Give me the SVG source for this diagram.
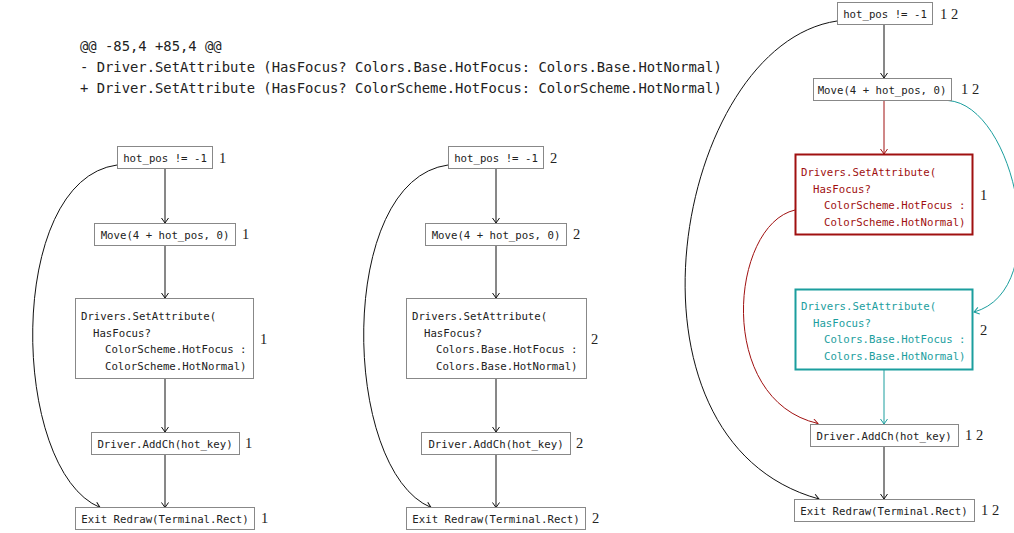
<svg xmlns="http://www.w3.org/2000/svg" width="1014" height="533" viewBox="0 0 1014 533">
<style>
.box{fill:#fff;stroke:#888;stroke-width:1}
.t{font-family:"DejaVu Sans Mono","Liberation Mono",monospace;font-size:10.7px;fill:#222}
.c{text-anchor:middle}
.n{font-family:"Liberation Serif","DejaVu Serif",serif;font-size:14.5px;fill:#222}
.hdr{font-family:"DejaVu Sans Mono","Liberation Mono",monospace;font-size:13.85px;fill:#222}
.e{fill:none;stroke:#111;stroke-width:1}
.er{fill:none;stroke:#a01010;stroke-width:1}
.et{fill:none;stroke:#1b9e9e;stroke-width:1}
.red{fill:#fff;stroke:#a01010;stroke-width:2}
.teal{fill:#fff;stroke:#1b9e9e;stroke-width:2}
.tr{fill:#a01010}
.tt{fill:#1b9e9e}
</style>
<defs>
<marker id="ak" viewBox="-6 -4 7 8" refX="0" refY="0" markerWidth="7" markerHeight="8" markerUnits="userSpaceOnUse" orient="auto"><path d="M-5,-3.5 L0,0 L-5,3.5" fill="none" stroke="#111" stroke-width="1"/></marker>
<marker id="ar" viewBox="-6 -4 7 8" refX="0" refY="0" markerWidth="7" markerHeight="8" markerUnits="userSpaceOnUse" orient="auto"><path d="M-5,-3.5 L0,0 L-5,3.5" fill="none" stroke="#a01010" stroke-width="1"/></marker>
<marker id="at" viewBox="-6 -4 7 8" refX="0" refY="0" markerWidth="7" markerHeight="8" markerUnits="userSpaceOnUse" orient="auto"><path d="M-5,-3.5 L0,0 L-5,3.5" fill="none" stroke="#1b9e9e" stroke-width="1"/></marker>
</defs>

<g id="header">
<text class="hdr" x="80" y="51">@@ -85,4 +85,4 @@</text>
<text class="hdr" x="80" y="72">- Driver.SetAttribute (HasFocus? Colors.Base.HotFocus: Colors.Base.HotNormal)</text>
<text class="hdr" x="80" y="93">+ Driver.SetAttribute (HasFocus? ColorScheme.HotFocus: ColorScheme.HotNormal)</text>
</g>

<g id="connectors">
<!-- left -->
<path class="e" d="M165,169 L165,223" marker-end="url(#ak)"/>
<path class="e" d="M165,245 L165,298" marker-end="url(#ak)"/>
<path class="e" d="M165,378 L165,432" marker-end="url(#ak)"/>
<path class="e" d="M165,454 L165,507.5" marker-end="url(#ak)"/>
<path class="e" d="M117,165 C5,180 10,470 100,507.5" marker-end="url(#ak)"/>
<!-- middle -->
<path class="e" d="M496,169 L496,223" marker-end="url(#ak)"/>
<path class="e" d="M496,245 L496,298" marker-end="url(#ak)"/>
<path class="e" d="M496,378 L496,432" marker-end="url(#ak)"/>
<path class="e" d="M496,454 L496,507.5" marker-end="url(#ak)"/>
<path class="e" d="M448,165 C336,180 341,470 431,507.5" marker-end="url(#ak)"/>
<!-- right -->
<path class="e" d="M884,24.5 L884,78" marker-end="url(#ak)"/>
<path class="er" d="M884,100 L884,154" marker-end="url(#ar)"/>
<path class="et" d="M948,100.5 C1015,105 1055,290 974,312" marker-end="url(#at)"/>
<path class="er" d="M795,210 C730,225 715,400 818,423.5" marker-end="url(#ar)"/>
<path class="et" d="M884,370 L884,424" marker-end="url(#at)"/>
<path class="e" d="M884,446 L884,499" marker-end="url(#ak)"/>
<path class="e" d="M837,21 C675,45 605,440 819,499" marker-end="url(#ak)"/>
</g>

<!-- left graph -->
<g id="L_hot">
<rect class="box" x="117.5" y="146.5" width="95" height="22"/>
<text class="t c" x="165" y="161.5">hot_pos != -1</text>
<text class="n" x="219" y="163">1</text>
</g>
<g id="L_move">
<rect class="box" x="94.5" y="223.5" width="141" height="22"/>
<text class="t c" x="165" y="238.5">Move(4 + hot_pos, 0)</text>
<text class="n" x="242" y="239">1</text>
</g>
<g id="L_set">
<rect class="box" x="75.5" y="298.5" width="178" height="80"/>
<text class="t" x="81" y="320">Drivers.SetAttribute(</text>
<text class="t" x="93" y="336.5">HasFocus?</text>
<text class="t" x="105" y="353">ColorScheme.HotFocus :</text>
<text class="t" x="105" y="369.5">ColorScheme.HotNormal)</text>
<text class="n" x="260" y="344">1</text>
</g>
<g id="L_add">
<rect class="box" x="91.5" y="432.5" width="148" height="22"/>
<text class="t c" x="165" y="447.5">Driver.AddCh(hot_key)</text>
<text class="n" x="245" y="448">1</text>
</g>
<g id="L_exit">
<rect class="box" x="75.5" y="507.5" width="179" height="22"/>
<text class="t c" x="165" y="522.5">Exit Redraw(Terminal.Rect)</text>
<text class="n" x="261" y="523">1</text>
</g>

<!-- middle graph -->
<g id="M_hot">
<rect class="box" x="448.5" y="146.5" width="95" height="22"/>
<text class="t c" x="496" y="161.5">hot_pos != -1</text>
<text class="n" x="550" y="163">2</text>
</g>
<g id="M_move">
<rect class="box" x="425.5" y="223.5" width="141" height="22"/>
<text class="t c" x="496" y="238.5">Move(4 + hot_pos, 0)</text>
<text class="n" x="573" y="239">2</text>
</g>
<g id="M_set">
<rect class="box" x="406.5" y="298.5" width="180" height="80"/>
<text class="t" x="412" y="320">Drivers.SetAttribute(</text>
<text class="t" x="424" y="336.5">HasFocus?</text>
<text class="t" x="436" y="353">Colors.Base.HotFocus :</text>
<text class="t" x="436" y="369.5">Colors.Base.HotNormal)</text>
<text class="n" x="591" y="344">2</text>
</g>
<g id="M_add">
<rect class="box" x="421.5" y="432.5" width="149" height="22"/>
<text class="t c" x="496" y="447.5">Driver.AddCh(hot_key)</text>
<text class="n" x="576" y="448">2</text>
</g>
<g id="M_exit">
<rect class="box" x="406.5" y="507.5" width="179" height="22"/>
<text class="t c" x="496" y="522.5">Exit Redraw(Terminal.Rect)</text>
<text class="n" x="592" y="523">2</text>
</g>

<!-- right graph -->
<g id="R_hot">
<rect class="box" x="837.5" y="2.5" width="95" height="22"/>
<text class="t c" x="885" y="17.5">hot_pos != -1</text>
<text class="n" x="940" y="19">1 2</text>
</g>
<g id="R_move">
<rect class="box" x="813.5" y="78.5" width="138" height="22"/>
<text class="t c" x="882" y="93.5">Move(4 + hot_pos, 0)</text>
<text class="n" x="961" y="94">1 2</text>
</g>
<g id="R_red">
<rect class="red" x="795.5" y="154.5" width="177" height="80"/>
<text class="t tr" x="801" y="176">Drivers.SetAttribute(</text>
<text class="t tr" x="813" y="192.5">HasFocus?</text>
<text class="t tr" x="824" y="209">ColorScheme.HotFocus :</text>
<text class="t tr" x="824" y="225.5">ColorScheme.HotNormal)</text>
<text class="n" x="980" y="200">1</text>
</g>
<g id="R_teal">
<rect class="teal" x="795.5" y="289.5" width="177" height="80"/>
<text class="t tt" x="801" y="310">Drivers.SetAttribute(</text>
<text class="t tt" x="813" y="326.5">HasFocus?</text>
<text class="t tt" x="824" y="343">Colors.Base.HotFocus :</text>
<text class="t tt" x="824" y="359.5">Colors.Base.HotNormal)</text>
<text class="n" x="980" y="335">2</text>
</g>
<g id="R_add">
<rect class="box" x="810.5" y="424.5" width="148" height="22"/>
<text class="t c" x="884" y="439.5">Driver.AddCh(hot_key)</text>
<text class="n" x="965" y="440">1 2</text>
</g>
<g id="R_exit">
<rect class="box" x="794.5" y="499.5" width="180" height="22"/>
<text class="t c" x="884" y="514.5">Exit Redraw(Terminal.Rect)</text>
<text class="n" x="981" y="515">1 2</text>
</g>
</svg>
